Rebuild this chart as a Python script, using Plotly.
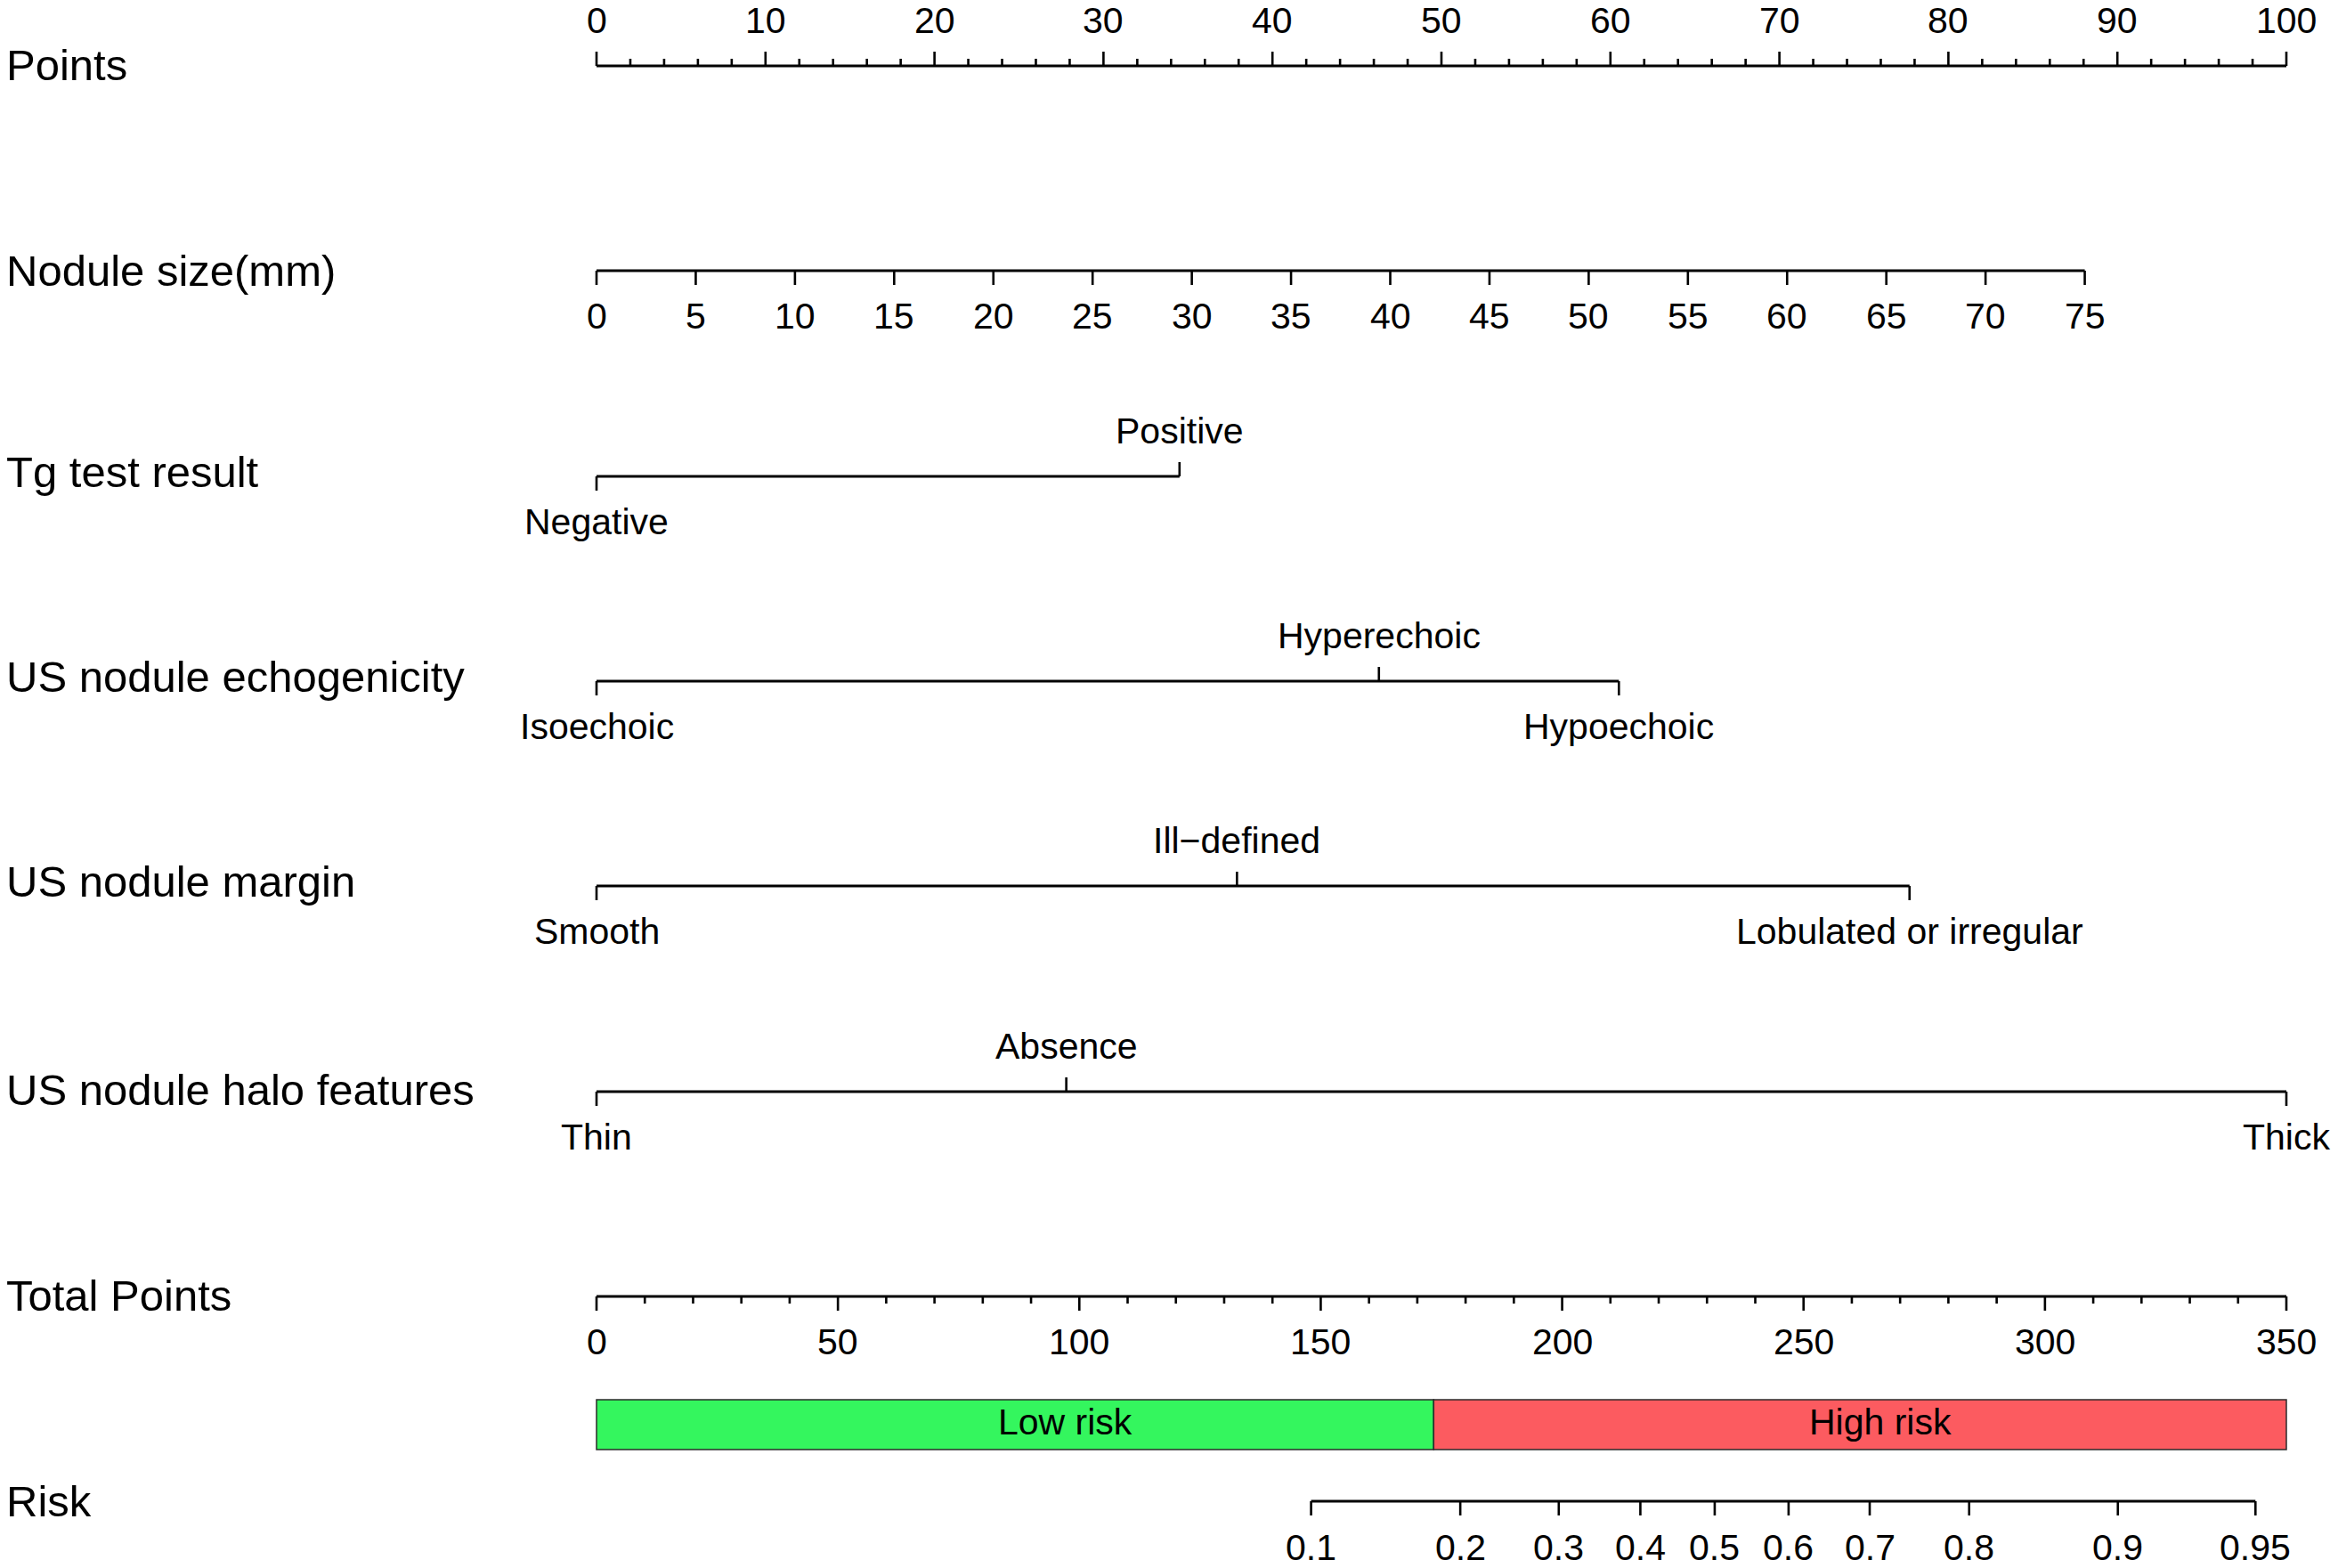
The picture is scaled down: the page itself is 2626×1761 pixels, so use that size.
import plotly.graph_objects as go

# ---------------- data ----------------
points_ticks = [0, 10, 20, 30, 40, 50, 60, 70, 80, 90, 100]
points_minor = list(range(0, 101, 2))

nodule_mm_ticks = [0, 5, 10, 15, 20, 25, 30, 35, 40, 45, 50, 55, 60, 65, 70, 75]
nodule_points_at_75mm = 88.07

tg_levels = ["Negative", "Positive"]
tg_points = [0, 34.5]
tg_side = ["below", "above"]

echo_levels = ["Isoechoic", "Hyperechoic", "Hypoechoic"]
echo_points = [0, 46.3, 60.5]
echo_side = ["below", "above", "below"]

margin_levels = ["Smooth", "Ill\u2212defined", "Lobulated or irregular"]
margin_points = [0, 37.9, 77.7]
margin_side = ["below", "above", "below"]

halo_levels = ["Thin", "Absence", "Thick"]
halo_points = [0, 27.8, 100]
halo_side = ["below", "above", "below"]

total_ticks = [0, 50, 100, 150, 200, 250, 300, 350]
total_minor = list(range(0, 351, 10))

risk_labels = ["0.1", "0.2", "0.3", "0.4", "0.5", "0.6", "0.7", "0.8", "0.9", "0.95"]
risk_total_points = [148.0, 178.9, 199.3, 216.2, 231.6, 246.9, 263.7, 284.3, 315.1, 343.6]

risk_groups = ["Low risk", "High risk"]
risk_group_start = [0, 173.4]
risk_group_end = [173.4, 350]
risk_group_label_at = [97, 266]
risk_group_colors = ["#34F65E", "#FC5B60"]

row_names = ["Points", "Nodule size(mm)", "Tg test result", "US nodule echogenicity",
             "US nodule margin", "US nodule halo features", "Total Points", "Risk"]

# ---------------- layout constants (pixels) ----------------
W, H = 2626, 1761
PX0, PX100 = 670.0, 2568.0          # pixel positions of points 0 and 100
ppp = (PX100 - PX0) / 100.0          # pixels per point
pt_lo = -PX0 / ppp
pt_hi = (W - PX0) / ppp
row_y = [74, 304, 535, 765, 995, 1226, 1456, 1686]
row_label_y = [73, 304, 530, 760, 990, 1224, 1455, 1686]
TICK = 16
MINOR = 8
LAB_OFF = 51
FONT = "Liberation Sans, Arial, sans-serif"
ROW_FS = 49
LAB_FS = 41

fig = go.Figure()
annotations = []
shapes = []


def add_line(xs, ys, xaxis, width):
    fig.add_trace(go.Scatter(x=xs, y=ys, mode="lines", xaxis=xaxis, yaxis="y",
                             line=dict(color="black", width=width),
                             hoverinfo="skip", showlegend=False))


def add_label(x, y, text, xref, size=LAB_FS, xanchor="center"):
    annotations.append(dict(x=x, y=y, xref=xref, yref="y", text=text, showarrow=False,
                            xanchor=xanchor, yanchor="middle",
                            font=dict(family=FONT, size=size, color="black")))


def numeric_axis(y, ticks, minor, xaxis, ticks_up, labels_above, labels=None):
    lo, hi = ticks[0], ticks[-1]
    sgn = -1 if ticks_up else 1
    xs, ys = [], []
    for t in ticks:
        xs += [t, t, None]
        ys += [y, y + sgn * TICK, None]
    for t in minor:
        if t in ticks:
            continue
        xs += [t, t, None]
        ys += [y, y + sgn * MINOR, None]
    add_line(xs, ys, xaxis, 2.6)
    add_line([lo, hi], [y, y], xaxis, 3.2)
    ly = y - LAB_OFF if labels_above else y + LAB_OFF
    for i, t in enumerate(ticks):
        txt = labels[i] if labels is not None else str(t)
        add_label(t, ly, txt, xaxis)


def categorical_axis(y, levels, pts, sides):
    xs, ys = [], []
    for p, s in zip(pts, sides):
        d = TICK if s == "below" else -TICK
        xs += [p, p, None]
        ys += [y, y + d, None]
    add_line(xs, ys, "x", 2.6)
    add_line([min(pts), max(pts)], [y, y], "x", 3.2)
    for lev, p, s in zip(levels, pts, sides):
        ly = y + LAB_OFF if s == "below" else y - LAB_OFF
        add_label(p, ly, lev, "x")


# Row names
for name, y in zip(row_names, row_label_y):
    annotations.append(dict(x=5 / W, y=y, xref="paper", yref="y", text=name, showarrow=False,
                            xanchor="left", yanchor="middle",
                            font=dict(family=FONT, size=ROW_FS, color="black")))

# Points
numeric_axis(row_y[0], points_ticks, points_minor, "x", ticks_up=True, labels_above=True)
# Nodule size (own axis x3 in mm)
numeric_axis(row_y[1], nodule_mm_ticks, [], "x3", ticks_up=False, labels_above=False)
# Categorical predictors
categorical_axis(row_y[2], tg_levels, tg_points, tg_side)
categorical_axis(row_y[3], echo_levels, echo_points, echo_side)
categorical_axis(row_y[4], margin_levels, margin_points, margin_side)
categorical_axis(row_y[5], halo_levels, halo_points, halo_side)
# Total points (own axis x2)
numeric_axis(row_y[6], total_ticks, total_minor, "x2", ticks_up=False, labels_above=False)
# Risk axis (on total-points axis)
rx, ry = [], []
for t in risk_total_points:
    rx += [t, t, None]
    ry += [row_y[7], row_y[7] + TICK, None]
add_line(rx, ry, "x2", 2.6)
add_line([risk_total_points[0], risk_total_points[-1]], [row_y[7], row_y[7]], "x2", 3.2)
for lab, t in zip(risk_labels, risk_total_points):
    add_label(t, row_y[7] + 52, lab, "x2")

# Risk group bar
BAR_TOP, BAR_BOT = 1572, 1628
for g, s, e, c, lx in zip(risk_groups, risk_group_start, risk_group_end,
                          risk_group_colors, risk_group_label_at):
    shapes.append(dict(type="rect", xref="x2", yref="y", x0=s, x1=e, y0=BAR_TOP, y1=BAR_BOT,
                       fillcolor=c, line=dict(color="#2b2b2b", width=1.5), layer="below"))
    add_label(lx, 1597, g, "x2")

hidden = dict(visible=False, showgrid=False, zeroline=False, fixedrange=True)
fig.update_layout(
    width=W, height=H,
    margin=dict(l=0, r=0, t=0, b=0),
    paper_bgcolor="white", plot_bgcolor="white",
    showlegend=False,
    xaxis=dict(range=[pt_lo, pt_hi], domain=[0, 1], **hidden),
    xaxis2=dict(range=[pt_lo * 3.5, pt_hi * 3.5], overlaying="x", domain=[0, 1], **hidden),
    xaxis3=dict(range=[pt_lo * 75 / nodule_points_at_75mm, pt_hi * 75 / nodule_points_at_75mm],
                overlaying="x", domain=[0, 1], **hidden),
    yaxis=dict(range=[H, 0], domain=[0, 1], **hidden),
    annotations=annotations,
    shapes=shapes,
)

fig.write_html("out.html", config={"displayModeBar": False},
               post_script="document.body.style.margin='0';document.body.style.overflow='hidden';")
